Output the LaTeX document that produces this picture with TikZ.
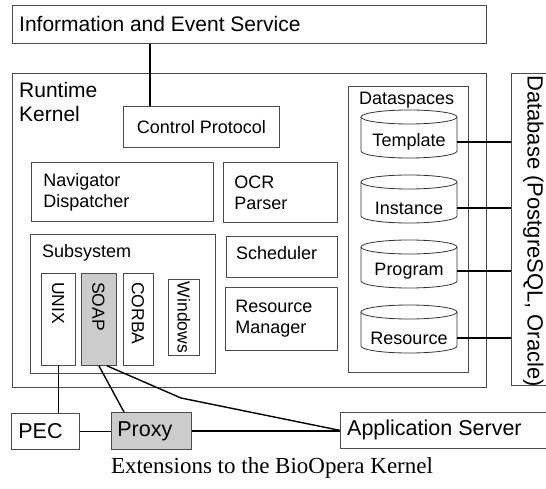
\documentclass[tikz,border=0pt]{standalone}
\usepackage{fontspec}
\setmainfont{Liberation Sans}
\newfontfamily\capfont{Liberation Serif}
\newcommand{\cylshape}[3]{%
  \filldraw[cyl] (#1-48,#2+7) -- (#1-48,#3-7)
    arc[start angle=180, end angle=0, x radius=48, y radius=7]
    -- (#1+48,#2+7)
    arc[start angle=0, end angle=-180, x radius=48, y radius=7] -- cycle;
  \draw[cyl] (#1-48,#2+7) arc[start angle=180, end angle=0, x radius=48, y radius=7];}
\begin{document}
\begin{tikzpicture}[x=1pt,y=-1pt,
  box/.style={draw=black!70, line width=0.8pt, inner sep=0pt},
  conn/.style={draw=black, line width=1.4pt},
  lbl/.style={font=\fontsize{21.5}{24}\selectfont, inner sep=0pt},
  sml/.style={font=\fontsize{18}{21}\selectfont, inner sep=0pt},
  vert/.style={font=\fontsize{17.5}{20}\selectfont, inner sep=0pt, rotate=-90, anchor=west},
  cyl/.style={draw=black!80, line width=0.8pt, fill=white}]
\useasboundingbox (0,0) rectangle (546,489);
\clip (0,0) rectangle (546,489);

% Information and Event Service
\node[box, anchor=north west, minimum width=474, minimum height=38] (info) at (12,5) {};
\node[lbl, anchor=west, font=\fontsize{21}{24}\selectfont] (infol) at (19,24) {Information and Event Service};

% Runtime Kernel
\node[box, anchor=north west, minimum width=474, minimum height=314] (kern) at (12,73) {};
\node[lbl, anchor=north west, align=left, font=\fontsize{21}{24}\selectfont] (kernl) at (19,82) {Runtime\\Kernel};

% Control Protocol
\node[box, sml, anchor=north west, minimum width=156, minimum height=41] (cp) at (123,106) {Control Protocol};

% Navigator Dispatcher
\node[box, sml, anchor=north west, minimum width=182, minimum height=59,
      text width=158, inner xsep=12, align=left] (nav) at (31,162) {Navigator\\Dispatcher};

% OCR Parser
\node[box, sml, anchor=north west, minimum width=114, minimum height=60,
      text width=92, inner xsep=11, align=left] (ocr) at (223,162) {OCR\\Parser};

% Subsystem
\node[box, anchor=north west, minimum width=185, minimum height=139] (sub) at (30,234) {};
\node[sml, anchor=base west] (subl) at (42,257) {Subsystem};

\node[box, anchor=north west, minimum width=34, minimum height=92] (unix) at (41,273) {};
\node[vert] (unixl) at (58,282) {UNIX};
\node[box, fill=black!20, anchor=north west, minimum width=35, minimum height=92] (soap) at (81,273) {};
\node[vert] (soapl) at (98.5,282) {SOAP};
\node[box, anchor=north west, minimum width=30, minimum height=92] (corba) at (123,273) {};
\node[vert] (corbal) at (138,282) {CORBA};
\node[box, anchor=north west, minimum width=31, minimum height=76] (win) at (168,279) {};
\node[vert, anchor=center] (winl) at (win.center) {Windows};

% Scheduler
\node[box, anchor=north west, minimum width=111, minimum height=41] (sch) at (226,236) {};
\node[sml, anchor=base west] (schl) at (236,259) {Scheduler};

% Resource Manager
\node[box, sml, anchor=north west, minimum width=112, minimum height=63,
      text width=92, inner xsep=10, align=left] (rm) at (225,287) {Resource\\Manager};

% Dataspaces
\node[box, anchor=north west, minimum width=120, minimum height=286] (ds) at (348,86) {};
\node[sml, anchor=base west] (dsl) at (359,105) {Dataspaces};

\cylshape{409}{110}{158}
\node[sml, minimum width=96, minimum height=28] (tpl) at (409,142) {Template};
\cylshape{409}{175}{223}
\node[sml, minimum width=96, minimum height=28] (ins) at (409,208) {Instance};
\cylshape{409}{240}{288}
\node[sml, minimum width=96, minimum height=28] (prg) at (409,271) {Program};
\cylshape{409}{305}{353}
\node[sml, minimum width=96, minimum height=28] (res) at (409,338) {Resource};

% Database
\node[box, anchor=north west, minimum width=60, minimum height=312] (db) at (511,73) {};
\node[lbl, rotate=-90, anchor=base west, font=\fontsize{22}{24}\selectfont] (dbl) at (527.5,75) {Database (PostgreSQL, Oracle)};

% Bottom row
\node[box, lbl, anchor=north west, minimum width=68, minimum height=36,
      text width=54, inner xsep=7, align=left] (pec) at (11,413) {PEC};
\node[box, lbl, fill=black!20, anchor=north west, minimum width=80, minimum height=37,
      text width=68, inner xsep=6, align=left] (proxy) at (111,412) {Proxy};
\node[box, anchor=north west, minimum width=220, minimum height=36] (app) at (340,412) {};
\node[lbl, anchor=west] (appl) at (347,430) {Application Server};

% Caption
\node[font=\capfont\fontsize{23}{26}\selectfont, inner sep=0pt] (cap) at (272,468) {Extensions to the BioOpera Kernel};

% Connectors
\coordinate (cpx) at (150,0);
\coordinate (bend) at (181,398);
\draw[conn] (info.south -| cpx) -- (cp.north -| cpx);
\draw[conn] (tpl.east) -- (tpl.east -| db.west);
\draw[conn] (ins.east) -- (ins.east -| db.west);
\draw[conn] (prg.east) -- (prg.east -| db.west);
\draw[conn] (res.east) -- (res.east -| db.west);
\draw[conn] (unix.south) -- (unix.south |- pec.north);
\draw[conn] (soap.south) -- ([xshift=13pt]proxy.north west);
\draw[conn] ([xshift=8pt]soap.south) -- (bend) -- (app.west);
\draw[conn] (pec.east) -- (pec.east -| proxy.west);
\draw[conn] (proxy.east) -- (proxy.east -| app.west);
\end{tikzpicture}
\end{document}
